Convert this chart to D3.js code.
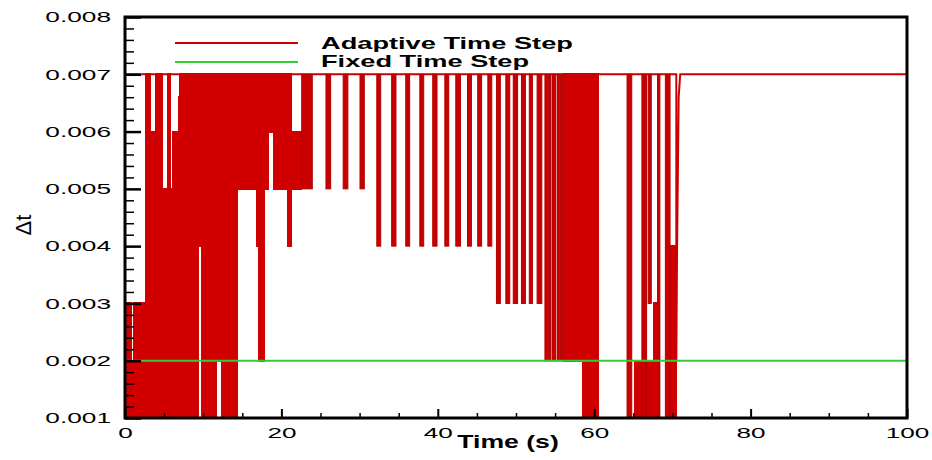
<!DOCTYPE html>
<html lang="en">
	<head>
		<meta charset="utf-8">
		<title>Adaptive vs fixed time step</title>
		<script src="https://d3js.org/d3.v7.min.js"></script>
		<style type="text/css">
			body { margin: 0; background: #fff; }
			text { font-family: "Liberation Sans", Arial, sans-serif; }
		</style>
	</head>
	<body>
        <script type="text/javascript">
			//Width and height
			var w = 932;
            var h = 460;
            var margin = {left: 125, top: 17, right: 25, bottom: 42};

            // axis ticks
            var xTicks = [0, 20, 40, 60, 80, 100];
            var xMinor = [5, 10, 15, 25, 30, 35, 45, 50, 55, 65, 70, 75, 85, 90, 95];
            var yTicks = [0.001, 0.002, 0.003, 0.004, 0.005, 0.006, 0.007, 0.008];
            var yTickLabels = ["0.001", "0.002", "0.003", "0.004", "0.005", "0.006", "0.007", "0.008"];

            // adaptive step: dense regions where dt keeps flipping, [t0, t1, low, high]
            var denseBands = [
                [0, 0.86, 0.001, 0.003],
                [0.86, 1.07, 0.001, 0.002],
                [1.07, 2.56, 0.001, 0.003],
                [2.56, 3.2, 0.001, 0.007],
                [3.2, 3.84, 0.001, 0.006],
                [3.84, 4.8, 0.001, 0.007],
                [4.8, 5.4, 0.001, 0.005],
                [5.4, 5.83, 0.001, 0.007],
                [5.83, 6.04, 0.001, 0.005],
                [6.04, 6.8, 0.001, 0.006],
                [6.8, 7.0, 0.001, 0.0066],
                [7.0, 9.4, 0.001, 0.007],
                [9.4, 9.8, 0.004, 0.007],
                [9.8, 11.7, 0.001, 0.007],
                [11.7, 12.3, 0.002, 0.007],
                [12.3, 14.4, 0.001, 0.007],
                [14.4, 16.8, 0.005, 0.007],
                [16.8, 17.1, 0.004, 0.007],
                [17.1, 17.8, 0.002, 0.007],
                [17.8, 18.3, 0.005, 0.007],
                [18.3, 19.0, 0.006, 0.007],
                [19.0, 20.8, 0.005, 0.007],
                [20.8, 21.3, 0.004, 0.007],
                [21.3, 22.6, 0.005, 0.006],
                [56.05, 58.5, 0.002, 0.007],
                [58.5, 60.5, 0.001, 0.007],
                [65.1, 68.4, 0.001, 0.002],
                [67.6, 68.4, 0.001, 0.003],
                [69.7, 70.5, 0.001, 0.004]
            ];

            // single dips of the adaptive step below 0.007, [t0, t1, low]
            var dips = [
                [22.6, 23.95, 0.005], [25.7, 26.3, 0.005], [27.9, 28.5, 0.005], [30.05, 30.6, 0.005],
                [32.2, 32.7, 0.004], [34.1, 34.65, 0.004], [35.9, 36.4, 0.004], [37.7, 38.2, 0.004],
                [39.35, 39.9, 0.004], [40.9, 41.4, 0.004], [42.3, 42.9, 0.004], [43.8, 44.3, 0.004],
                [45.1, 45.6, 0.004], [46.4, 46.9, 0.004],
                [47.5, 48.0, 0.003], [48.7, 49.2, 0.003], [49.65, 50.2, 0.003], [50.7, 51.2, 0.003],
                [51.7, 52.1, 0.003], [52.7, 53.3, 0.003],
                [53.7, 54.0, 0.002], [54.1, 54.4, 0.002], [54.6, 55.1, 0.002], [55.3, 55.6, 0.002],
                [55.7, 56.0, 0.002],
                [64.2, 64.8, 0.001], [66.1, 66.7, 0.001], [66.9, 67.3, 0.003], [68.1, 68.4, 0.001],
                [69.1, 69.7, 0.001]
            ];

            // adaptive step line (upper level and final climb back to 0.007)
            var adaptiveT = [0, 70.5, 70.5, 70.6, 70.8, 71.0, 100];
            var adaptiveDt = [0.007, 0.007, 0.002, 0.004, 0.0066, 0.007, 0.007];

            // fixed step
            var fixedT = [0, 100];
            var fixedDt = [0.002, 0.002];

            var legendNames = ["Adaptive Time Step", "Fixed Time Step"];
            var legendColors = ["#cc0000", "#33cc33"];

            var red = "#d00000";

            var mySVG = d3.select('body').append('svg').attr('width', w).attr('height', h);
            var pw = w - margin.left - margin.right;
            var ph = h - margin.top - margin.bottom;
            var g = mySVG.append('g').attr('transform', 'translate(' + margin.left + ',' + margin.top + ')');

            //Create scale functions
			var xScale = d3.scaleLinear().domain([0, 100]).range([0, pw]);
			var yScale = d3.scaleLinear().domain([0.001, 0.008]).range([ph, 0]);

            // dense regions (slightly widened so neighbours meet without seams)
            g.selectAll('rect.band')
                .data(denseBands)
                .enter()
                .append('rect')
                    .attr('class', 'band')
                    .attr('x', d => xScale(d[0]) - 0.5)
                    .attr('y', d => yScale(d[3]) - 1)
                    .attr('width', d => xScale(d[1]) - xScale(d[0]) + 1)
                    .attr('height', d => yScale(d[2]) - yScale(d[3]) + 2)
                    .attr('fill', red)
                    .attr('shape-rendering', 'crispEdges');

            // top line
            var adaptivePts = adaptiveT.map((t, i) => [t, adaptiveDt[i]]);
            g.append('path')
                .datum(adaptivePts)
                .attr('d', d3.line().x(d => xScale(d[0])).y(d => yScale(d[1])))
                .attr('fill', 'none')
                .attr('stroke', '#cc0000')
                .attr('stroke-width', 2);

            // dips
            g.selectAll('rect.dip')
                .data(dips)
                .enter()
                .append('rect')
                    .attr('class', 'dip')
                    .attr('x', d => xScale(d[0]))
                    .attr('y', yScale(0.007))
                    .attr('width', d => xScale(d[1]) - xScale(d[0]))
                    .attr('height', d => yScale(d[2]) - yScale(0.007))
                    .attr('fill', '#c80000')
                    .attr('stroke', '#b40000')
                    .attr('stroke-width', 1);

            // fixed time step
            var fixedPts = fixedT.map((t, i) => [t, fixedDt[i]]);
            g.append('path')
                .datum(fixedPts)
                .attr('d', d3.line().x(d => xScale(d[0])).y(d => yScale(d[1])))
                .attr('fill', 'none')
                .attr('stroke', '#33cc33')
                .attr('stroke-width', 2);

            // stretched labels like the original
            function stretch(sel, k) {
                sel.each(function() {
                    var len = this.getComputedTextLength();
                    d3.select(this).attr('textLength', len * k).attr('lengthAdjust', 'spacingAndGlyphs');
                });
            }

            // x axis
            var xAxis = g.append('g').attr('transform', 'translate(0,' + ph + ')')
                .call(d3.axisBottom(xScale).tickValues(xTicks).tickSize(-9).tickPadding(10).tickFormat(d3.format('d')));
            xAxis.select('.domain').remove();
            xAxis.selectAll('line').attr('stroke', '#000').attr('stroke-width', 2);
            xAxis.selectAll('text').attr('font-size', 14.5).attr('fill', '#000').call(stretch, 1.8);
            var xAxisMinor = g.append('g').attr('transform', 'translate(0,' + ph + ')')
                .call(d3.axisBottom(xScale).tickValues(xMinor).tickSize(-5).tickFormat(''));
            xAxisMinor.select('.domain').remove();
            xAxisMinor.selectAll('line').attr('stroke', '#000').attr('stroke-width', 1.5);

            // y axis
            var yMinor = [];
            yTicks.forEach(function(v, i) {
                if (i < yTicks.length - 1) for (var k = 1; k < 5; k++) yMinor.push(+(v + k * 0.0002).toFixed(5));
            });
            var yAxis = g.append('g')
                .call(d3.axisLeft(yScale).tickValues(yTicks).tickSize(-16).tickPadding(14).tickFormat((d, i) => yTickLabels[i]));
            yAxis.select('.domain').remove();
            yAxis.selectAll('line').attr('stroke', '#000').attr('stroke-width', 2.5);
            yAxis.selectAll('text').attr('font-size', 15).attr('fill', '#000').call(stretch, 1.75);
            var yAxisMinor = g.append('g')
                .call(d3.axisLeft(yScale).tickValues(yMinor).tickSize(-9).tickFormat(''));
            yAxisMinor.select('.domain').remove();
            yAxisMinor.selectAll('line').attr('stroke', '#000').attr('stroke-width', 1.5);

            // frame
            g.append('rect')
                .attr('x', 0).attr('y', 0).attr('width', pw).attr('height', ph)
                .attr('fill', 'none').attr('stroke', '#000').attr('stroke-width', 3);

            // axis titles
            mySVG.append('text')
                .attr('x', 508)
                .attr('y', 448)
                .attr('text-anchor', 'middle')
                .attr('font-size', 19)
                .attr('font-weight', 'bold')
                .text('Time (s)')
                .call(stretch, 1.4);
            mySVG.append('text')
                .attr('transform', 'translate(31,225) rotate(-90)')
                .attr('text-anchor', 'middle')
                .attr('font-size', 22)
                .text('Δt');

            // legend
            var legend = mySVG.append('g');
            legend.selectAll('line')
                .data(legendNames)
                .enter()
                .append('line')
                    .attr('x1', 175).attr('x2', 298)
                    .attr('y1', (d, i) => 43 + 19 * i).attr('y2', (d, i) => 43 + 19 * i)
                    .attr('stroke', (d, i) => legendColors[i])
                    .attr('stroke-width', 2);
            legend.selectAll('text')
                .data(legendNames)
                .enter()
                .append('text')
                    .attr('x', 321)
                    .attr('y', (d, i) => 49 + 18 * i)
                    .attr('font-size', 17)
                    .attr('font-weight', 'bold')
                    .text(d => d)
                    .call(stretch, 1.6);
        </script>
    </body>
</html>
